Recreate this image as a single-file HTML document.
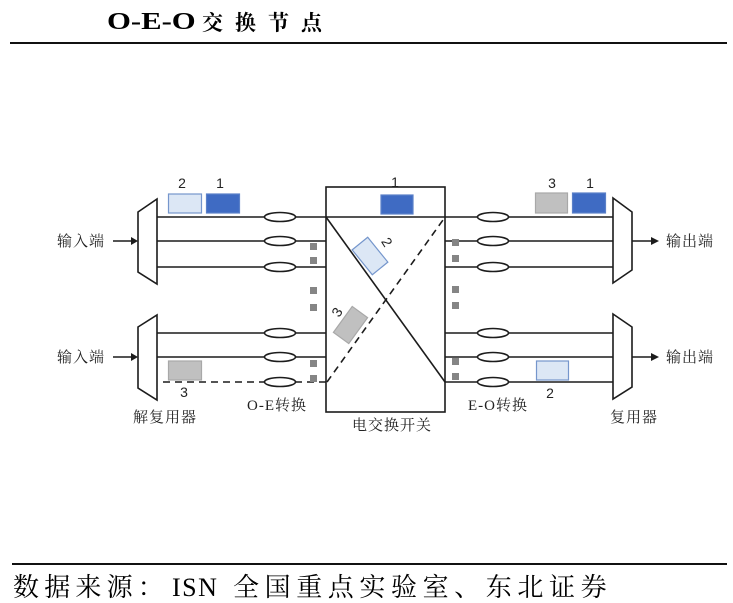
<!DOCTYPE html>
<html>
<head>
<meta charset="utf-8">
<style>
  html,body{margin:0;padding:0;background:#fff;}
  body{width:733px;height:603px;overflow:hidden;}
  svg{display:block;}
  .lbl{font-family:"Liberation Serif","Noto Serif CJK SC",serif;font-size:15px;fill:#222;letter-spacing:1px;}
  .num{font-family:"Liberation Sans",sans-serif;font-size:14px;fill:#222;}
</style>
</head>
<body>
<svg width="733" height="603" viewBox="0 0 733 603" xmlns="http://www.w3.org/2000/svg">
  <rect x="0" y="0" width="733" height="603" fill="#fff"/>

  <!-- Title -->
  <text x="0" y="0" font-family="Liberation Serif, serif" font-weight="bold" font-size="24" fill="#000" transform="translate(107,29) scale(1.28,1)">O-E-O</text>
  <text x="202" y="30" font-family="Noto Serif CJK SC, serif" font-weight="bold" font-size="21" letter-spacing="12" fill="#000">交换节点</text>
  <rect x="10" y="42" width="717" height="2" fill="#111"/>

  <!-- Footer -->
  <rect x="12" y="563" width="715" height="2" fill="#111"/>
  <text x="13" y="596" font-family="Liberation Serif, Noto Serif CJK SC, serif" font-size="26" letter-spacing="5.2" fill="#000">数据来源：</text>
  <text x="172" y="596" font-family="Liberation Serif, serif" font-size="26" letter-spacing="1.5" fill="#000">ISN</text>
  <text x="233" y="596" font-family="Liberation Serif, Noto Serif CJK SC, serif" font-size="26" letter-spacing="5.6" fill="#000">全国重点实验室、东北证券</text>

  <g stroke="#1c1c1c" stroke-width="1.6" fill="none">
    <!-- Left demux -->
    <polygon points="138,212 157,199 157,284 138,272" fill="#fff"/>
    <polygon points="138,327 157,315 157,400 138,388" fill="#fff"/>
    <!-- Right mux -->
    <polygon points="613,198 632,212 632,270 613,283" fill="#fff"/>
    <polygon points="613,314 632,327 632,387 613,399" fill="#fff"/>

    <!-- input arrows -->
    <line x1="113" y1="241" x2="132" y2="241"/>
    <line x1="113" y1="357" x2="132" y2="357"/>
    <!-- output arrows -->
    <line x1="632" y1="241" x2="652" y2="241"/>
    <line x1="632" y1="357" x2="652" y2="357"/>

    <!-- left lines -->
    <line x1="157" y1="217" x2="326" y2="217"/>
    <line x1="157" y1="241" x2="326" y2="241"/>
    <line x1="157" y1="267" x2="326" y2="267"/>
    <line x1="157" y1="333" x2="326" y2="333"/>
    <line x1="157" y1="357" x2="326" y2="357"/>
    <line x1="163" y1="382" x2="326" y2="382" stroke-dasharray="7,5"/>

    <!-- right lines -->
    <line x1="445" y1="217" x2="613" y2="217"/>
    <line x1="445" y1="241" x2="613" y2="241"/>
    <line x1="445" y1="267" x2="613" y2="267"/>
    <line x1="445" y1="333" x2="613" y2="333"/>
    <line x1="445" y1="357" x2="613" y2="357"/>
    <line x1="445" y1="382" x2="613" y2="382"/>

    <!-- switch -->
    <rect x="326" y="187" width="119" height="225" fill="none"/>
    <line x1="326" y1="217" x2="445" y2="217"/>
    <line x1="326" y1="217" x2="445" y2="382"/>
    <line x1="327" y1="382" x2="443" y2="220" stroke-dasharray="7,5"/>

    <!-- ellipses left -->
    <ellipse cx="280" cy="217" rx="15.5" ry="4.5" fill="#fff"/>
    <ellipse cx="280" cy="241" rx="15.5" ry="4.5" fill="#fff"/>
    <ellipse cx="280" cy="267" rx="15.5" ry="4.5" fill="#fff"/>
    <ellipse cx="280" cy="333" rx="15.5" ry="4.5" fill="#fff"/>
    <ellipse cx="280" cy="357" rx="15.5" ry="4.5" fill="#fff"/>
    <ellipse cx="280" cy="382" rx="15.5" ry="4.5" fill="#fff"/>
    <!-- ellipses right -->
    <ellipse cx="493" cy="217" rx="15.5" ry="4.5" fill="#fff"/>
    <ellipse cx="493" cy="241" rx="15.5" ry="4.5" fill="#fff"/>
    <ellipse cx="493" cy="267" rx="15.5" ry="4.5" fill="#fff"/>
    <ellipse cx="493" cy="333" rx="15.5" ry="4.5" fill="#fff"/>
    <ellipse cx="493" cy="357" rx="15.5" ry="4.5" fill="#fff"/>
    <ellipse cx="493" cy="382" rx="15.5" ry="4.5" fill="#fff"/>
  </g>

  <!-- arrowheads -->
  <polygon points="131,237 138,241 131,245" fill="#1c1c1c"/>
  <polygon points="131,353 138,357 131,361" fill="#1c1c1c"/>
  <polygon points="651,237 659,241 651,245" fill="#1c1c1c"/>
  <polygon points="651,353 659,357 651,361" fill="#1c1c1c"/>

  <!-- gray dot squares -->
  <g fill="#858585">
    <rect x="310" y="243" width="7" height="7"/>
    <rect x="310" y="257" width="7" height="7"/>
    <rect x="310" y="287" width="7" height="7"/>
    <rect x="310" y="304" width="7" height="7"/>
    <rect x="310" y="360" width="7" height="7"/>
    <rect x="310" y="375" width="7" height="7"/>
    <rect x="452" y="239" width="7" height="7"/>
    <rect x="452" y="255" width="7" height="7"/>
    <rect x="452" y="286" width="7" height="7"/>
    <rect x="452" y="302" width="7" height="7"/>
    <rect x="452" y="358" width="7" height="7"/>
    <rect x="452" y="373" width="7" height="7"/>
  </g>

  <!-- wavelength boxes -->
  <rect x="168.5" y="194" width="33" height="19" fill="#dce7f5" stroke="#7596cc" stroke-width="1.2"/>
  <rect x="206.5" y="194" width="33" height="19" fill="#3f6bc3" stroke="#5a80c8" stroke-width="1.2"/>
  <rect x="168.5" y="361" width="33" height="19" fill="#c0c0c0" stroke="#a8a8a8" stroke-width="1.2"/>

  <rect x="381" y="195" width="32" height="19" fill="#3f6bc3" stroke="#5a80c8" stroke-width="1.2"/>
  <rect x="-16" y="-10" width="32" height="20" fill="#dce7f5" stroke="#7596cc" stroke-width="1.2" transform="translate(370,256) rotate(51)"/>
  <rect x="-16" y="-9.5" width="32" height="19" fill="#c0c0c0" stroke="#a8a8a8" stroke-width="1.2" transform="translate(350.5,325) rotate(-54)"/>

  <rect x="535.5" y="193" width="32" height="20" fill="#c0c0c0" stroke="#a8a8a8" stroke-width="1.2"/>
  <rect x="572.5" y="193" width="33" height="20" fill="#3f6bc3" stroke="#5a80c8" stroke-width="1.2"/>
  <rect x="536.5" y="361" width="32" height="19" fill="#dce7f5" stroke="#7596cc" stroke-width="1.2"/>

  <!-- numbers -->
  <text class="num" x="182" y="188" text-anchor="middle">2</text>
  <text class="num" x="220" y="188" text-anchor="middle">1</text>
  <text class="num" x="184" y="397" text-anchor="middle">3</text>
  <text class="num" x="395" y="187" text-anchor="middle">1</text>
  <text class="num" text-anchor="middle" transform="translate(387,242) rotate(58)" y="5">2</text>
  <text class="num" text-anchor="middle" transform="translate(337,312) rotate(-58)" y="5">3</text>
  <text class="num" x="552" y="188" text-anchor="middle">3</text>
  <text class="num" x="590" y="188" text-anchor="middle">1</text>
  <text class="num" x="550" y="398" text-anchor="middle">2</text>

  <!-- labels -->
  <text class="lbl" x="57" y="246">输入端</text>
  <text class="lbl" x="57" y="362">输入端</text>
  <text class="lbl" x="666" y="246">输出端</text>
  <text class="lbl" x="666" y="362">输出端</text>
  <text class="lbl" x="133" y="422">解复用器</text>
  <text class="lbl" x="247" y="410">O-E转换</text>
  <text class="lbl" x="352" y="430">电交换开关</text>
  <text class="lbl" x="468" y="410">E-O转换</text>
  <text class="lbl" x="610" y="422">复用器</text>
</svg>
</body>
</html>
